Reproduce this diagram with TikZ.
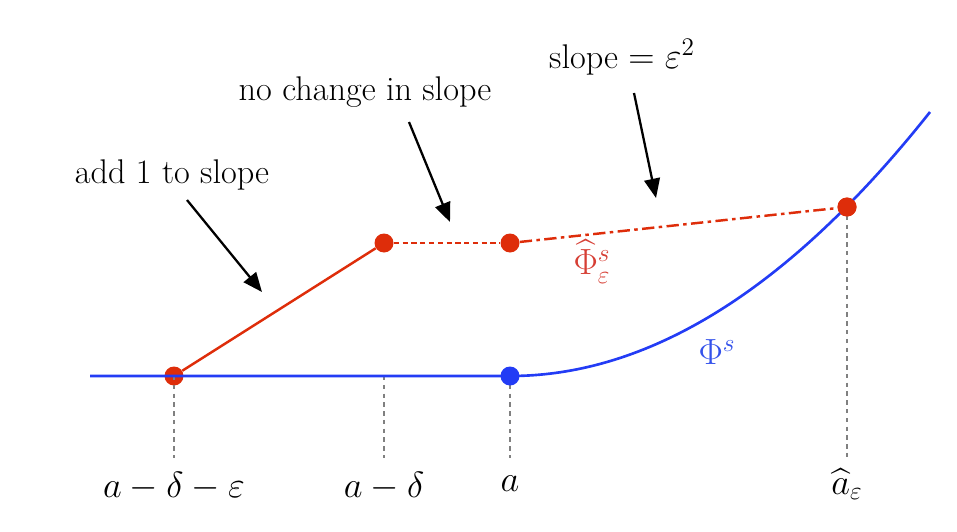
\documentclass[tikz,border=0pt]{standalone}
\usepackage{amsmath,amssymb}
\usetikzlibrary{positioning}
\usetikzlibrary {arrows.meta}
\definecolor{phired}{RGB}{222,45,10}
\definecolor{phiblue}{RGB}{35,60,245}
\definecolor{labred}{RGB}{214,62,52}
\definecolor{labblue}{RGB}{52,82,235}
\tikzset{reddot/.style={circle,draw=none,fill=phired,
inner sep=0pt,minimum size=0.38cm}}
\tikzset{bluedot/.style={circle,draw=none,fill=phiblue,
inner sep=0pt,minimum size=0.38cm}}
\tikzset{marker/.style={draw=gray,line width=0.6pt,dash pattern=on 2.5pt off 2.5pt}}
\tikzset{pointer/.style={line width=1.3pt,-{Triangle[length=11pt,width=9pt]}}}
\tikzset{note/.style={font=\fontsize{19.5}{23}\selectfont,inner sep=1pt}}

\begin{document}
\begin{tikzpicture}[x=0.02cm,y=-0.02cm]
    \useasboundingbox (0,0) rectangle (957,531);

        % the points
        \coordinate (left) at (90,376);
        \coordinate (top) at (930,112);
        \node[reddot] (pA) at (174,376) {};
        \node[reddot] (pB) at (384,243) {};
        \node[reddot] (pC) at (510,243) {};
        \node[reddot] (pD) at (847,207) {};
        \coordinate (pAD) at (384,376);
        \coordinate (pa) at (510,376);

        % ticks
        \coordinate (tA) at (174,458);
        \coordinate (tB) at (384,458);
        \coordinate (tC) at (510,458);
        \coordinate (tD) at (847,458);
        \draw[marker] (pA.center) -- (tA);
        \draw[marker] (pAD) -- (tB);
        \draw[marker] (pa) -- (tC);
        \draw[marker] (pD.center) -- (tD);

        % Phi^s
        \draw[phiblue,line width=1.5pt] (left) -- (pa) .. controls (650,376) and (790,288.5) .. (top);
        \node[bluedot] (pE) at (pa) {};

        % the new function
        \draw[phired,line width=1.4pt] (pA) -- (pB);
        \draw[phired,line width=1.4pt,dash pattern=on 3pt off 2pt] (pB) -- (pC);
        \draw[phired,line width=1.4pt,dash pattern=on 7pt off 2.5pt on 2pt off 2.5pt] (pC) -- (pD);
        \node[reddot] at (pD) {};

        \node[note,text=labred] (phihat) at (592,262) {$\widehat{\Phi}^s_\varepsilon$};
        \node[note,text=labblue] (phi) at (717,352) {$\Phi^s$};

        % axis labels
        \node[note] (lA) at (174,486) {$a-\delta-\varepsilon$};
        \node[note] (lB) at (384,486) {$a-\delta$};
        \node[note] (lC) at (510,484) {$a$};
        \node[note] (lD) at (847,484) {$\widehat{a}_\varepsilon$};

        % notes
        \node[note] (addone) at (172,175) {add 1 to slope};
        \node[note] (nochange) at (365,92) {no change in slope};
        \node[note] (slopeeq) at (622,57) {slope $=\varepsilon^2$};

        \coordinate (s1) at (187,200);
        \coordinate (e1) at (262,292);
        \draw[pointer] (s1) -- (e1);
        \coordinate (s2) at (409,122);
        \coordinate (e2) at (450,222);
        \draw[pointer] (s2) -- (e2);
        \coordinate (s3) at (634,93);
        \coordinate (e3) at (656,198);
        \draw[pointer] (s3) -- (e3);

    \end{tikzpicture}
\end{document}
